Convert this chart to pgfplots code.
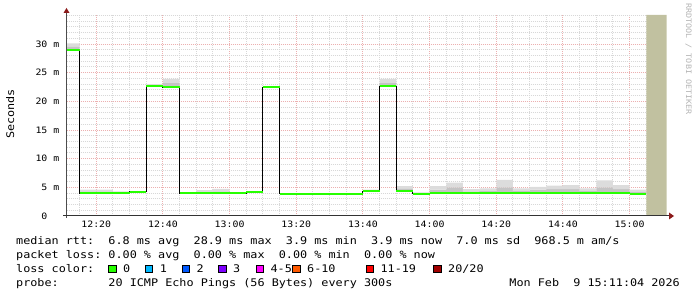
\documentclass[border=0pt]{standalone}
\usepackage{fontspec}
\setmainfont{DejaVu Sans Mono}
\newfontfamily\rrdmono[FakeStretch=1.123]{DejaVu Sans Mono}
\usepackage{pgfplots}
\usepackage{pgfplotstable}
\pgfplotsset{compat=1.18}
\definecolor{lc0}{HTML}{26FF00}
\definecolor{lc1}{HTML}{00B8FF}
\definecolor{lc2}{HTML}{0059FF}
\definecolor{lc3}{HTML}{7E00FF}
\definecolor{lc45}{HTML}{FF00FF}
\definecolor{lc610}{HTML}{FF5A00}
\definecolor{lc1119}{HTML}{FF0000}
\definecolor{lc20}{HTML}{A00000}
\definecolor{smokeL}{HTML}{DCDCDC}
\definecolor{smokeM}{HTML}{C4C4C4}
\definecolor{mingrid}{HTML}{D8D8D8}
\definecolor{majgrid}{HTML}{ECB0B0}
\definecolor{future}{HTML}{C1C1A0}
\definecolor{arrowred}{HTML}{8B1A1A}
\definecolor{wm}{HTML}{B4B4B4}
\newcommand{\rrdtxt}{\rrdmono\fontsize{10.5}{12}\selectfont}
\newcommand{\rrdtick}{\rrdmono\fontsize{8.8}{10}\selectfont}
% t = minutes after 12:00; med = median rtt (ms); mid/max = smoke levels (ms)
\pgfplotstableread{
t    med   mid   max
10   29.0  29.6  30.1
15   4.0   4.3   4.6
20   4.0   4.3   4.6
25   4.0   4.1   4.3
30   4.2   4.2   4.2
35   22.7  22.8  23.0
40   22.5  23.2  23.9
45   4.0   4.0   4.0
50   4.0   4.2   4.5
55   4.0   4.3   4.75
60   4.0   4.0   4.0
65   4.2   4.2   4.2
70   22.5  22.5  22.5
75   3.9   3.9   3.9
80   3.9   3.9   3.9
85   3.9   3.9   3.9
90   3.9   3.9   3.9
95   3.9   3.9   3.9
100  4.3   4.4   4.6
105  22.6  23.2  23.9
110  4.4   4.8   5.2
115  3.9   4.0   4.1
120  4.0   4.6   5.2
125  4.0   5.0   5.8
130  4.0   4.3   4.7
135  4.0   4.4   4.8
140  4.0   5.0   6.3
145  4.0   4.4   4.8
150  4.0   4.6   5.1
155  4.0   4.7   5.3
160  4.0   4.7   5.4
165  4.0   4.4   4.8
170  4.0   5.0   6.2
175  4.0   4.7   5.4
180  3.9   4.2   4.6
185  3.9   3.9   3.9
}\rtt
\begin{document}
\frenchspacing
\begin{tikzpicture}[x=1pt,y=1pt]
\path (0,0) rectangle (697,297);
\begin{axis}[
  at={(66.5pt,81pt)}, anchor=south west,
  scale only axis, width=600pt, height=201pt,
  xmin=11.07, xmax=191.07, ymin=0, ymax=35.06,
  axis line style={draw=none},
  major tick length=0pt, minor tick length=0pt,
  xtick={20,40,...,180},
  xticklabels={12:20,12:40,13:00,13:20,13:40,14:00,14:20,14:40,15:00},
  minor xtick={15,25,30,35,45,50,55,65,70,75,85,90,95,105,110,115,125,130,135,145,150,155,165,170,175,185,190},
  ytick={0,5,...,30},
  yticklabels={0\phantom{\ m},5 m,10 m,15 m,20 m,25 m,30 m},
  minor ytick={1,2,3,4,6,7,8,9,11,12,13,14,16,17,18,19,21,22,23,24,26,27,28,29,31,32,33,34,35},
  grid=both,
  minor grid style={draw=mingrid, line width=1pt, dash pattern=on 1pt off 1pt},
  major grid style={draw=majgrid, line width=1pt, dash pattern=on 1pt off 1pt},
  ticklabel style={font=\rrdtick, inner sep=0pt},
  xticklabel style={anchor=north, yshift=-4.7pt},
  yticklabel style={anchor=east, xshift=-7pt},
]
\addplot[stack plots=y, draw=none, const plot, forget plot] table[x=t,y=med]{\rtt};
\addplot[stack plots=y, draw=none, fill=smokeM, const plot, forget plot] table[x=t,y expr=\thisrow{mid}-\thisrow{med}]{\rtt} \closedcycle;
\addplot[stack plots=y, draw=none, fill=smokeL, const plot, forget plot] table[x=t,y expr=\thisrow{max}-\thisrow{mid}]{\rtt} \closedcycle;
\addplot[stack plots=false, black, line width=1pt, const plot] table[x=t,y=med]{\rtt};
\addplot[stack plots=false, lc0, line width=2pt, jump mark left] table[x=t,y=med]{\rtt};
\addplot[stack plots=false, draw=none, fill=future] coordinates {(185,0) (185,35.06) (191.07,35.06) (191.07,0)} \closedcycle;
\end{axis}
% axis lines and arrows
\draw[black!70, line width=1pt] (66.5,79) -- (66.5,285);
\fill[arrowred] (63.5,284) -- (69.5,284) -- (66.5,289) -- cycle;
\draw[black!80, line width=1pt] (63,81) -- (670,81);
\fill[arrowred] (669,77.5) -- (669,84.5) -- (674,81) -- cycle;
% labels
\node[rotate=90, font=\rrdtxt, inner sep=0pt] at (10.3,183) {Seconds};
\node[rotate=-90, font=\rrdmono\fontsize{7.5}{8}\selectfont, text=wm, inner sep=0pt] at (688.5,238) {RRDTOOL / TOBI OETIKER};
% legend text
\node[anchor=base west, inner sep=0pt, font=\rrdtxt] at (16,52) {median rtt:\ \ 6.8 ms avg\ \ 28.9 ms max\ \ 3.9 ms min\ \ 3.9 ms now\ \ 7.0 ms sd\ \ 968.5 m am/s};
\node[anchor=base west, inner sep=0pt, font=\rrdtxt] at (16,38) {packet loss: 0.00 \% avg\ \ 0.00 \% max\ \ 0.00 \% min\ \ 0.00 \% now};
\node[anchor=base west, inner sep=0pt, font=\rrdtxt] at (16,24) {loss color:};
\foreach \bx/\col/\lab in {108.3/lc0/0, 145/lc1/1, 181.7/lc2/2, 218.3/lc3/3, 255.7/lc45/4-5, 292.3/lc610/6-10, 365.7/lc1119/11-19, 433.3/lc20/20\slash 20}{
  \filldraw[fill=\col, draw=black, line width=0.8pt] (\bx+0.5,24.5) rectangle (\bx+7.8,31.8);
  \node[anchor=base west, inner sep=0pt, font=\rrdtxt] at (\bx+14.7,24) {\lab};
}
\node[anchor=base west, inner sep=0pt, font=\rrdtxt] at (16,10) {probe:\ \ \ \ \ \ \ 20 ICMP Echo Pings (56 Bytes) every 300s};
\node[anchor=base east, inner sep=0pt, font=\rrdtxt] at (680,10) {Mon Feb\ \ 9 15:11:04 2026};
\end{tikzpicture}
\end{document}
